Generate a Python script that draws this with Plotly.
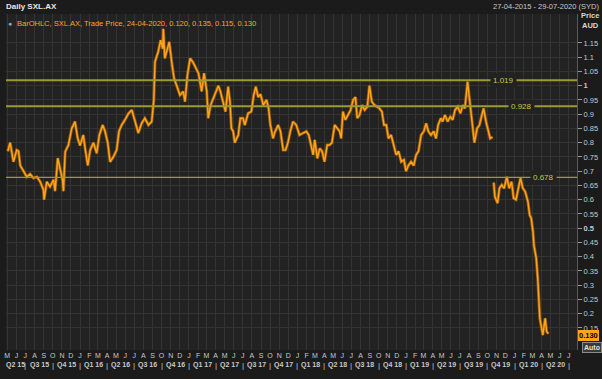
import plotly.graph_objects as go
import pandas as pd

# ---- data (approximate closes) ----
dates = [
    "2015-05-03","2015-05-11","2015-05-22","2015-06-02","2015-06-08","2015-06-14","2015-06-25","2015-07-06",
    "2015-07-17","2015-07-28","2015-08-09","2015-08-20","2015-08-31","2015-09-02","2015-09-11","2015-09-22",
    "2015-10-04","2015-10-09","2015-10-18","2015-10-26","2015-11-03","2015-11-06","2015-11-12","2015-11-23",
    "2015-12-04","2015-12-15","2015-12-24","2016-01-01","2016-01-12","2016-01-18","2016-01-27","2016-02-04",
    "2016-02-15","2016-02-26","2016-03-06","2016-03-17","2016-03-25","2016-04-03","2016-04-11","2016-04-22",
    "2016-05-03","2016-05-11","2016-05-20","2016-05-31","2016-06-12","2016-06-23","2016-07-04","2016-07-15",
    "2016-07-26","2016-08-06","2016-08-18","2016-08-29","2016-09-05","2016-09-09","2016-09-20","2016-09-28",
    "2016-10-05","2016-10-07","2016-10-12","2016-10-20","2016-10-27","2016-11-04","2016-11-12","2016-11-21",
    "2016-12-02","2016-12-13","2016-12-19","2016-12-27","2017-01-05","2017-01-14","2017-01-21","2017-02-02",
    "2017-02-13","2017-02-21","2017-03-02","2017-03-07","2017-03-15","2017-03-24","2017-04-04","2017-04-10",
    "2017-04-17","2017-04-26","2017-05-04","2017-05-13","2017-05-19","2017-05-24","2017-05-30","2017-06-04",
    "2017-06-16","2017-06-23","2017-07-02","2017-07-08","2017-07-19","2017-07-30","2017-08-07","2017-08-14",
    "2017-08-22","2017-08-30","2017-09-08","2017-09-19","2017-09-26","2017-10-02","2017-10-11","2017-10-16",
    "2017-10-28","2017-11-05","2017-11-14","2017-11-22","2017-11-30","2017-12-08","2017-12-17","2017-12-28",
    "2018-01-08","2018-01-20","2018-01-31","2018-02-08","2018-02-15","2018-02-23","2018-02-28","2018-03-09",
    "2018-03-17","2018-03-25","2018-04-02","2018-04-11","2018-04-19","2018-04-27","2018-05-06","2018-05-15",
    "2018-05-23","2018-05-28","2018-06-03","2018-06-11","2018-06-20","2018-06-29","2018-07-07","2018-07-15",
    "2018-07-21","2018-07-29","2018-08-06","2018-08-15","2018-08-24","2018-08-31","2018-09-08","2018-09-17",
    "2018-09-26","2018-10-04","2018-10-12","2018-10-19","2018-10-27","2018-11-03","2018-11-12","2018-11-21",
    "2018-11-29","2018-12-07","2018-12-16","2018-12-25","2019-01-01","2019-01-09","2019-01-18","2019-01-27",
    "2019-02-04","2019-02-12","2019-02-21","2019-03-02","2019-03-10","2019-03-17","2019-03-26","2019-04-04",
    "2019-04-12","2019-04-19","2019-04-28","2019-05-04","2019-05-12","2019-05-21","2019-05-30","2019-06-07",
    "2019-06-15","2019-06-24","2019-07-03","2019-07-11","2019-07-18","2019-07-27","2019-08-02","2019-08-08",
    "2019-08-13","2019-08-19","2019-08-28","2019-09-05","2019-09-13","2019-09-19","2019-09-27","2019-10-05",
    "2019-10-11","2019-10-19",
]
close = [
    0.77,0.80,0.733,0.774,0.77,0.72,0.70,0.68,
    0.69,0.676,0.68,0.663,0.634,0.60,0.663,0.646,
    0.67,0.63,0.746,0.71,0.67,0.63,0.768,0.792,
    0.85,0.874,0.816,0.79,0.827,0.78,0.72,0.774,
    0.80,0.763,0.827,0.862,0.84,0.80,0.733,0.75,
    0.774,0.84,0.862,0.88,0.903,0.915,0.874,0.834,
    0.868,0.886,0.862,0.874,0.95,1.084,1.12,1.16,
    1.13,1.20,1.096,1.13,1.154,1.084,1.026,1.00,
    0.967,0.98,0.944,1.037,1.096,1.084,1.067,1.044,
    0.98,1.044,0.98,0.886,0.932,0.956,0.98,1.00,
    0.98,0.944,0.909,0.997,0.944,0.85,0.84,0.80,
    0.827,0.886,0.886,0.862,0.903,0.909,0.967,0.997,
    0.96,0.97,0.932,0.95,0.92,0.862,0.815,0.834,
    0.862,0.84,0.774,0.774,0.80,0.84,0.874,0.862,
    0.827,0.834,0.84,0.827,0.792,0.757,0.81,0.745,
    0.78,0.77,0.733,0.792,0.792,0.80,0.862,0.85,
    0.84,0.815,0.909,0.88,0.897,0.915,0.95,0.96,
    0.886,0.897,0.932,0.915,0.926,1.00,0.944,0.932,
    0.926,0.92,0.909,0.862,0.862,0.815,0.827,0.792,
    0.757,0.77,0.733,0.74,0.70,0.72,0.733,0.72,
    0.757,0.77,0.827,0.84,0.868,0.84,0.827,0.84,
    0.815,0.862,0.886,0.874,0.897,0.874,0.891,0.88,
    0.915,0.926,0.903,0.932,0.92,1.014,0.96,0.897,
    0.84,0.80,0.85,0.862,0.897,0.92,0.874,0.84,
    0.815,0.82,
]
dates2 = [
    "2019-10-23","2019-10-27","2019-11-05","2019-11-11","2019-11-19","2019-11-27","2019-12-06","2019-12-14",
    "2019-12-22","2019-12-29","2020-01-06","2020-01-14","2020-01-21","2020-01-29","2020-02-06","2020-02-15",
    "2020-02-21","2020-02-26","2020-03-03","2020-03-06","2020-03-14","2020-03-19","2020-03-23","2020-03-26",
    "2020-04-05","2020-04-13","2020-04-18","2020-04-24",
]
close2 = [
    0.66,0.61,0.588,0.64,0.652,0.64,0.68,0.64,
    0.663,0.605,0.60,0.64,0.676,0.64,0.628,0.593,
    0.546,0.535,0.488,0.441,0.394,0.324,0.254,0.184,
    0.125,0.184,0.137,0.13,
]
levels = [1.019, 0.928, 0.678]
level_labels = ["1.019", "0.928", "0.678"]
level_label_dates = ["2019-11-24", "2020-01-23", "2020-04-06"]
last_price = "0.130"

y_ticks = [0.15, 0.2, 0.25, 0.3, 0.35, 0.4, 0.45, 0.5, 0.55, 0.6, 0.65, 0.7, 0.75,
           0.8, 0.85, 0.9, 0.95, 1.0, 1.05, 1.1, 1.15]
y_ticktext = ["0.15", "0.2", "0.25", "0.3", "0.35", "0.4", "0.45", "<b>0.5</b>", "0.55", "0.6",
              "0.65", "0.7", "0.75", "0.8", "0.85", "0.9", "0.95", "<b>1</b>", "1.05", "1.1", "1.15"]
month_letters = "JFMAMJJASOND"
quarter_labels = ["Q2 15", "Q3 15", "Q4 15", "Q1 16", "Q2 16", "Q3 16", "Q4 16", "Q1 17", "Q2 17",
                  "Q3 17", "Q4 17", "Q1 18", "Q2 18", "Q3 18", "Q4 18", "Q1 19", "Q2 19", "Q3 19",
                  "Q4 19", "Q1 20", "Q2 20"]

x_start, x_end = pd.Timestamp("2015-04-27"), pd.Timestamp("2020-07-29")

BG = "#222222"
GRID = "#343434"
ORANGE = "#FFA41B"
DARK_ORANGE = "#9A5E10"
OLIVE = "#9C9C2E"
TXT = "#C8C8C8"
FONT = "Liberation Sans"

all_x = pd.to_datetime(dates + [None] + dates2)
all_y = close + [None] + close2

fig = go.Figure()
fig.add_trace(go.Scatter(x=all_x, y=all_y, mode="lines", line=dict(color=DARK_ORANGE, width=3),
                         connectgaps=False, hoverinfo="skip", showlegend=False))
fig.add_trace(go.Scatter(x=all_x, y=all_y, mode="lines", line=dict(color=ORANGE, width=1.4),
                         connectgaps=False, hoverinfo="skip", showlegend=False))

for lv, lab, ld, w in zip(levels, level_labels, level_label_dates, [2, 2, 1.3]):
    fig.add_shape(type="line", xref="x", yref="y", x0=x_start, x1=x_end, y0=lv, y1=lv,
                  line=dict(color=OLIVE, width=w), layer="above")
    fig.add_annotation(x=ld, y=lv, text=lab, showarrow=False, bgcolor=BG, borderpad=2,
                       font=dict(family=FONT, size=8, color="#C8C84A"))

month_ticks = pd.date_range("2015-05-01", "2020-07-01", freq="MS")
fig.update_xaxes(range=[x_start, x_end], tickvals=month_ticks,
                 ticktext=[month_letters[d.month - 1] for d in month_ticks],
                 showgrid=True, gridcolor=GRID, gridwidth=1, zeroline=False,
                 tickfont=dict(family=FONT, size=7, color=TXT), ticks="", showline=False,
                 fixedrange=True)
fig.update_yaxes(range=[0.0726, 1.2516], side="right", tickvals=y_ticks, ticktext=y_ticktext,
                 showgrid=True, gridcolor=GRID, gridwidth=1, zeroline=False,
                 ticks="outside", ticklen=4, tickcolor="#9a9a9a",
                 tickfont=dict(family=FONT, size=7.5, color=TXT), showline=True,
                 linecolor="#5a5a5a", linewidth=1, mirror=False, fixedrange=True)

# quarter labels and separators
q_starts = pd.date_range("2015-04-01", "2020-04-01", freq="QS")
for qs, ql in zip(q_starts, quarter_labels):
    qe = qs + pd.offsets.QuarterEnd(0) + pd.Timedelta(days=1)
    a, b = max(qs, x_start), min(qe, x_end)
    mid = a + (b - a) / 2
    fig.add_annotation(x=mid, xref="x", y=-0.045, yref="paper", text="<b>" + ql + "</b>",
                       showarrow=False, font=dict(family=FONT, size=7, color=TXT), yanchor="middle")
    fig.add_annotation(x=qe, xref="x", y=-0.045, yref="paper", text="|",
                       showarrow=False, font=dict(family=FONT, size=8, color=TXT), yanchor="middle")

fig.update_layout(
    width=602, height=379, margin=dict(l=4, r=25, t=14, b=29),
    paper_bgcolor="#1b1b1b", plot_bgcolor=BG, showlegend=False,
    font=dict(family=FONT, size=8, color=TXT),
)


def px_ann(xp, yp, text, color, size=8, xanchor="left", bold=False, bg=None, border=None):
    fig.add_annotation(x=(xp - 4) / 573, xref="paper", y=1 - (yp - 14) / 336, yref="paper",
                       text=("<b>%s</b>" % text) if bold else text, showarrow=False,
                       xanchor=xanchor, yanchor="middle", bgcolor=bg, borderpad=1,
                       bordercolor=border, borderwidth=1 if border else 0,
                       font=dict(family=FONT, size=size, color=color))


px_ann(3, 6, "Daily SXL.AX", "#E6E6E6", 8, bold=True)
px_ann(600, 6, "27-04-2015 - 29-07-2020 (SYD)", "#C8C8C8", 7.5, xanchor="right")
px_ann(14, 23, "BarOHLC, SXL.AX, Trade Price, 24-04-2020, 0.120, 0.135, 0.115, 0.130", ORANGE, 7.5)
px_ann(8, 23, "●", "#7FA7D0", 7, xanchor="center")
px_ann(600, 16, "Price", "#D8D8D8", 7.5, xanchor="right", bold=True)
px_ann(600, 25, "AUD", "#D8D8D8", 7.5, xanchor="right", bold=True)
px_ann(578, 335, last_price, "#000000", 7.5, xanchor="left", bold=True, bg=ORANGE)
px_ann(582, 347, "Auto", "#E0E0E0", 7, xanchor="left", bold=True, bg="#3a3a3a", border="#8a8a8a")

fig.write_html("out.html", config={"displayModeBar": False},
               post_script="document.body.style.margin='0';document.body.style.padding='0';")
